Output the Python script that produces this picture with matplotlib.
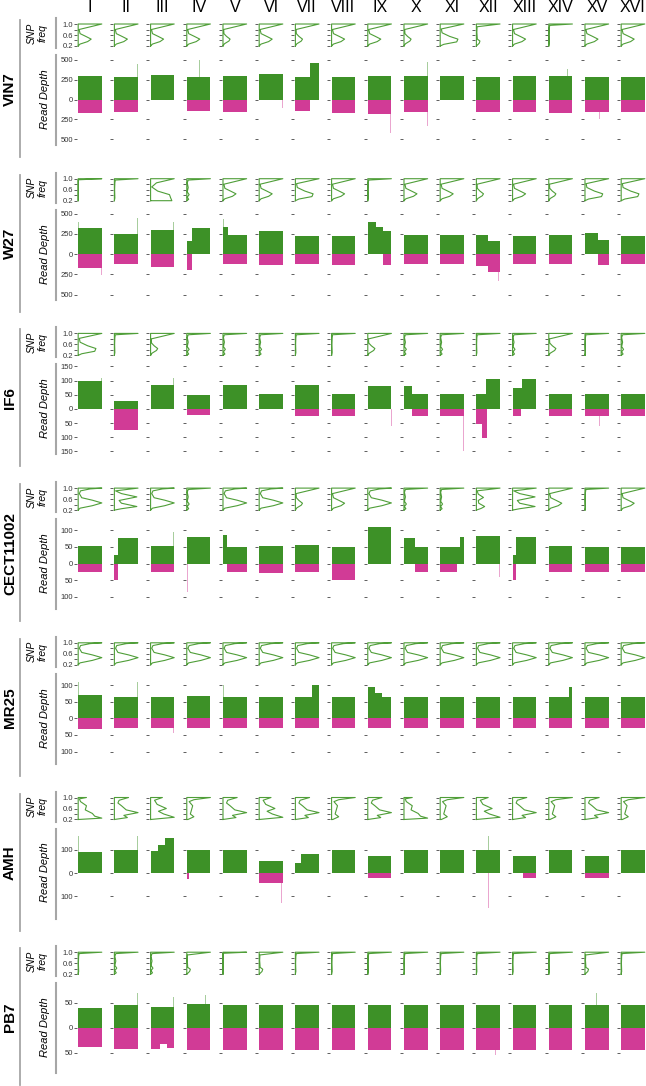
import matplotlib
matplotlib.use('Agg')
import matplotlib.pyplot as plt
from matplotlib.lines import Line2D

plt.rcParams['font.family'] = ['Liberation Sans', 'DejaVu Sans']

W, H = 646, 1086

chroms = ['I', 'II', 'III', 'IV', 'V', 'VI', 'VII', 'VIII',
          'IX', 'X', 'XI', 'XII', 'XIII', 'XIV', 'XV', 'XVI']
strains = ['VIN7', 'W27', 'IF6', 'CECT11002', 'MR25', 'AMH', 'PB7']

# read depth axis limit and ticks for each strain
depth_lim = [560, 550, 157, 134, 134, 192, 89]
depth_ticks = [
    [-500, -250, 0, 250, 500],
    [-500, -250, 0, 250, 500],
    [-150, -100, -50, 0, 50, 100, 150],
    [-100, -50, 0, 50, 100],
    [-100, -50, 0, 50, 100],
    [-100, 0, 100],
    [-50, 0, 50],
]

# SNP frequency density outlines, (freq, relative density)
snp_shapes = {
    'het5': [(0.2, 0.0), (0.27, 0.08), (0.36, 0.4), (0.45, 0.55), (0.55, 0.32),
             (0.65, 0.08), (0.8, 0.04), (1.0, 1.0)],
    'het3': [(0.2, 0.0), (0.28, 0.06), (0.38, 0.25), (0.45, 0.3), (0.55, 0.15),
             (0.65, 0.04), (0.8, 0.03), (1.0, 1.0)],
    'het8': [(0.2, 0.0), (0.26, 0.15), (0.35, 0.7), (0.45, 0.75), (0.55, 0.4),
             (0.68, 0.08), (0.82, 0.05), (1.0, 1.0)],
    'hom': [(0.2, 0.0), (0.3, 0.02), (0.6, 0.01), (0.85, 0.02), (0.95, 0.04),
            (1.0, 1.0)],
    'homw': [(0.2, 0.0), (0.25, 0.08), (0.33, 0.02), (0.42, 0.1), (0.52, 0.02),
             (0.68, 0.06), (0.85, 0.02), (0.95, 0.06), (1.0, 1.0)],
    'homb': [(0.2, 0.0), (0.3, 0.12), (0.38, 0.15), (0.45, 0.04), (0.7, 0.02),
             (0.9, 0.03), (1.0, 1.0)],
    'flat': [(0.96, 0.0), (1.0, 1.0)],
    'full': [(0.2, 0.0), (0.27, 0.08), (0.36, 0.6), (0.46, 1.0), (0.56, 0.6),
             (0.65, 0.15), (0.8, 0.05), (0.9, 0.1), (0.97, 0.5), (1.0, 1.0)],
    'tri': [(0.2, 0.0), (0.25, 0.3), (0.33, 0.95), (0.45, 0.3), (0.55, 0.2),
            (0.68, 0.95), (0.8, 0.3), (0.9, 0.05), (1.0, 1.0)],
    'tris': [(0.2, 0.0), (0.26, 0.2), (0.33, 0.35), (0.45, 0.1), (0.55, 0.08),
             (0.66, 0.3), (0.78, 0.08), (0.9, 0.03), (1.0, 1.0)],
    'w3': [(0.2, 0.9), (0.3, 0.85), (0.42, 0.8), (0.55, 0.3), (0.7, 0.05),
           (0.85, 0.25), (1.0, 1.0)],
    'amh1': [(0.2, 0.0), (0.25, 1.0), (0.32, 0.7), (0.42, 0.6), (0.55, 0.3),
             (0.7, 0.35), (0.85, 0.1), (0.95, 0.05), (1.0, 0.35)],
    'amh2': [(0.2, 0.0), (0.27, 0.55), (0.35, 0.4), (0.45, 1.0), (0.55, 0.5),
             (0.7, 0.3), (0.8, 0.15), (0.9, 0.2), (1.0, 0.6)],
    'amh3': [(0.2, 0.0), (0.28, 0.9), (0.4, 0.5), (0.5, 0.3), (0.6, 0.6),
             (0.75, 0.25), (0.9, 0.15), (1.0, 0.45)],
    'amh4': [(0.2, 0.05), (0.3, 0.3), (0.4, 0.15), (0.55, 0.2), (0.7, 0.25),
             (0.85, 0.1), (0.92, 0.3), (1.0, 1.0)],
}

vin7_snp = ['het5', 'het5', 'het5', 'het5', 'het3', 'het5', 'het3', 'het5',
            'het5', 'het3', 'het8', 'homb', 'het5', 'hom', 'het5', 'het5']
w27_snp = ['flat', 'hom', 'w3', 'homw', 'het5', 'het5', 'het8', 'het5',
           'hom', 'het5', 'het5', 'het3', 'het5', 'het3', 'het8', 'het8']
if6_snp = ['het8', 'hom', 'het3', 'homw', 'homw', 'homw', 'hom', 'hom',
           'het3', 'homw', 'homw', 'hom', 'homw', 'het3', 'hom', 'homw']
cect_snp = ['full', 'tri', 'full', 'homw', 'full', 'full', 'het3', 'het5',
            'full', 'homw', 'homw', 'tris', 'tri', 'het5', 'hom', 'het5']
mr25_snp = ['full'] * 16
amh_snp = ['amh1', 'amh2', 'amh3', 'amh4', 'amh2', 'amh3', 'amh2', 'amh4',
           'amh2', 'amh1', 'amh4', 'amh3', 'amh2', 'amh4', 'amh2', 'amh4']
pb7_snp = ['hom', 'homw', 'homw', 'homb', 'flat', 'homb', 'hom', 'hom',
           'hom', 'hom', 'hom', 'hom', 'hom', 'hom', 'homb', 'hom']

# coverage: a level, or a list of (end fraction, level) segments
vin7_green = [300, 285, 310, 280, 300, 320, [(0.62, 285), (1, 455)], 285,
              300, 290, 295, 285, 300, 290, 285, 285]
vin7_magenta = [170, 160, 0, 150, 157, 0, [(0.62, 145), (1, 0)], 165,
                177, 157, 0, 157, 157, 165, 157, 157]
w27_green = [325, 250, 300, [(0.2, 157), (1, 330)], [(0.2, 340), (1, 240)], 290,
             230, 230, [(0.35, 400), (0.65, 340), (1, 290)], 240, 240,
             [(0.5, 240), (1, 160)], 230, 240, [(0.55, 260), (1, 170)], 230]
w27_magenta = [165, 125, 160, [(0.2, 196), (1, 0)], 115, 130, 120, 130,
               [(0.65, 0), (1, 130)], 120, 120, [(0.5, 140), (1, 220)], 120,
               120, [(0.55, 0), (1, 130)], 120]
if6_green = [98, 28, 85, 49, 83, 51, 83, 51, 80, [(0.35, 80), (1, 51)], 51,
             [(0.4, 51), (1, 107)], [(0.4, 75), (1, 107)], 51, 51, 51]
if6_magenta = [0, 75, 0, 22, 0, 0, 26, 26, 0, [(0.35, 0), (1, 26)], 26,
               [(0.25, 53), (0.45, 104), (1, 0)], [(0.35, 26), (1, 0)], 26, 26, 26]
cect_green = [52, [(0.15, 25), (1, 76)], 52, 81, [(0.15, 85), (1, 50)], 52, 55,
              50, 109, [(0.45, 78), (1, 50)], [(0.85, 50), (1, 81)], 83,
              [(0.15, 25), (1, 81)], 52, 50, 50]
cect_magenta = [26, [(0.15, 50), (1, 0)], 25, 0, [(0.15, 0), (1, 25)], 28, 25,
                50, 0, [(0.45, 0), (1, 25)], [(0.7, 25), (1, 0)], 0,
                [(0.15, 50), (1, 0)], 25, 25, 25]
mr25_green = [69, 64, 64, 66, 64, 64, [(0.72, 64), (1, 100)], 64,
              [(0.3, 95), (0.6, 75), (1, 64)], 64, 64, 64, 64,
              [(0.85, 64), (1, 95)], 64, 64]
mr25_magenta = [32, 30, 30, 30, 30, 30, 30, 30, 30, 30, 30, 30, 30, 30, 30, 30]
amh_green = [90, 100, [(0.3, 97), (0.6, 120), (1, 150)], 100, 100, 50,
             [(0.25, 45), (1, 82)], 100, 75, 100, 100, 100, 75, 100, 75, 100]
amh_magenta = [0, 0, 0, [(0.1, 25), (1, 0)], 0, 42, 0, 0, 20, 0, 0, 0,
               [(0.45, 0), (1, 20)], 0, 20, 0]
pb7_green = [40, 45, 42, 47, 45, 45, 45, 45, 45, 45, 45, 45, 45, 45, 45, 45]
pb7_magenta = [38, 43, [(0.4, 42), (0.7, 32), (1, 40)], 45, 45, 45, 45, 45,
               45, 45, 45, 45, 45, 45, 45, 45]

# narrow peaks: (strain, chromosome, position, depth)
green_spikes = [(0, 1, 0.99, 450), (0, 3, 0.55, 500), (0, 9, 0.99, 470),
                (0, 13, 0.8, 380), (1, 0, 0.02, 400), (1, 1, 0.99, 450),
                (1, 2, 0.98, 400), (1, 13, 0.9, 500), (1, 4, 0.02, 430),
                (2, 0, 0.98, 110), (2, 7, 0.99, 95), (2, 2, 0.98, 110),
                (3, 3, 0.3, 110), (3, 2, 0.98, 95), (4, 0, 0.02, 110),
                (4, 1, 0.99, 110), (4, 4, 0.02, 100), (5, 0, 0.02, 160),
                (5, 1, 0.99, 160), (5, 11, 0.5, 160), (6, 2, 0.98, 62),
                (6, 1, 0.99, 70), (6, 3, 0.8, 65), (6, 14, 0.5, 70)]
magenta_spikes = [(0, 3, 0.05, 250), (0, 8, 0.97, 420), (0, 9, 0.98, 330),
                  (0, 11, 0.45, 350), (0, 14, 0.6, 250), (0, 2, 0.99, 120),
                  (0, 5, 0.99, 110), (1, 0, 0.99, 260), (1, 11, 0.95, 330),
                  (2, 10, 0.99, 150), (2, 8, 0.99, 60), (2, 14, 0.6, 60),
                  (3, 3, 0.02, 85), (3, 11, 0.99, 40), (4, 1, 0.03, 65),
                  (4, 2, 0.98, 45), (5, 5, 0.95, 130), (5, 11, 0.5, 150),
                  (6, 2, 0.9, 55), (6, 11, 0.8, 55)]

snp_rows = [vin7_snp, w27_snp, if6_snp, cect_snp, mr25_snp, amh_snp, pb7_snp]
green_rows = [vin7_green, w27_green, if6_green, cect_green, mr25_green,
              amh_green, pb7_green]
magenta_rows = [vin7_magenta, w27_magenta, if6_magenta, cect_magenta,
                mr25_magenta, amh_magenta, pb7_magenta]

GREEN = '#3d9127'
MAGENTA = '#d13b96'
LINE = '#4f9e38'
GREY = '#a6a6a6'


def segments(spec):
    if isinstance(spec, (int, float)):
        return [(0.0, 1.0, spec)]
    out, start = [], 0.0
    for end, lev in spec:
        out.append((start, end, lev))
        start = end
    return out


def rect(x, y, w, h):
    return [x / W, 1 - (y + h) / H, w / W, h / H]


def style(ax, first):
    for s in ax.spines.values():
        s.set_visible(False)
    ax.set_xticks([])
    ax.tick_params(axis='y', length=2, width=0.6, color='#444444', pad=1,
                   labelsize=5.5, labelcolor='#333333', labelleft=first)


fig = plt.figure(figsize=(W / 100, H / 100), dpi=100)

for k, c in enumerate(chroms):
    fig.text((90 + 36.2 * k) / W, 1 - 12 / H, c, ha='center', va='baseline',
             fontsize=11.5)

depth_axes = {}
for i, name in enumerate(strains):
    T = 18 + 154.7 * i
    fig.text(10 / W, 1 - (T + 71) / H, name, rotation=90, ha='center',
             va='center', fontsize=11, fontweight='bold')
    fig.add_artist(Line2D([20 / W] * 2, [1 - (T + 2) / H, 1 - (T + 139) / H],
                          color=GREY, lw=1.3))
    fig.add_artist(Line2D([56 / W] * 2, [1 - T / H, 1 - (T + 30) / H],
                          color=GREY, lw=1.5))
    fig.add_artist(Line2D([56 / W] * 2, [1 - (T + 37) / H, 1 - (T + 127) / H],
                          color=GREY, lw=1.5))
    fig.text(37 / W, 1 - (T + 15) / H, 'SNP\nfreq', rotation=90, ha='center',
             va='center', fontsize=7.5, style='italic', linespacing=1.1)
    fig.text(45 / W, 1 - (T + 81) / H, 'Read Depth', rotation=90, ha='center',
             va='center', fontsize=8, style='italic')

    lim = depth_lim[i]
    for k in range(16):
        x0 = 77 + 36.2 * k
        # SNP frequency panel
        ax = fig.add_axes(rect(x0, T + 4, 26, 26))
        pts = snp_shapes[snp_rows[i][k]]
        top = max(d for f, d in pts)
        xs = [0] + [d / top for f, d in pts] + [0, 0]
        ys = [0.2] + [f for f, d in pts] + [1.0, 0.2]
        ax.plot(xs, ys, color=LINE, lw=0.8)
        ax.set_xlim(-0.05, 1.05)
        ax.set_ylim(0.127, 1.073)
        ax.set_yticks([0.2, 0.4, 0.6, 0.8, 1.0])
        ax.set_yticklabels(['0.2', '', '0.6', '', '1.0'])
        style(ax, k == 0)

        # read depth panel
        ax = fig.add_axes(rect(x0, T + 37, 26, 89))
        for s0, s1, lev in segments(green_rows[i][k]):
            ax.bar(s0, lev, width=s1 - s0, align='edge', color=GREEN, lw=0)
        for s0, s1, lev in segments(magenta_rows[i][k]):
            ax.bar(s0, -lev, width=s1 - s0, align='edge', color=MAGENTA, lw=0)
        ax.set_xlim(-0.05, 1.05)
        ax.set_ylim(-lim, lim)
        ax.set_yticks(depth_ticks[i])
        ax.set_yticklabels([str(abs(t)) for t in depth_ticks[i]])
        style(ax, k == 0)
        depth_axes[(i, k)] = ax

for i, k, pos, val in green_spikes:
    depth_axes[(i, k)].bar(pos, val, width=0.03, color=GREEN, alpha=0.45, lw=0)
for i, k, pos, val in magenta_spikes:
    depth_axes[(i, k)].bar(pos, -val, width=0.03, color=MAGENTA, alpha=0.45,
                           lw=0)

fig.savefig('out.png', dpi=100)
